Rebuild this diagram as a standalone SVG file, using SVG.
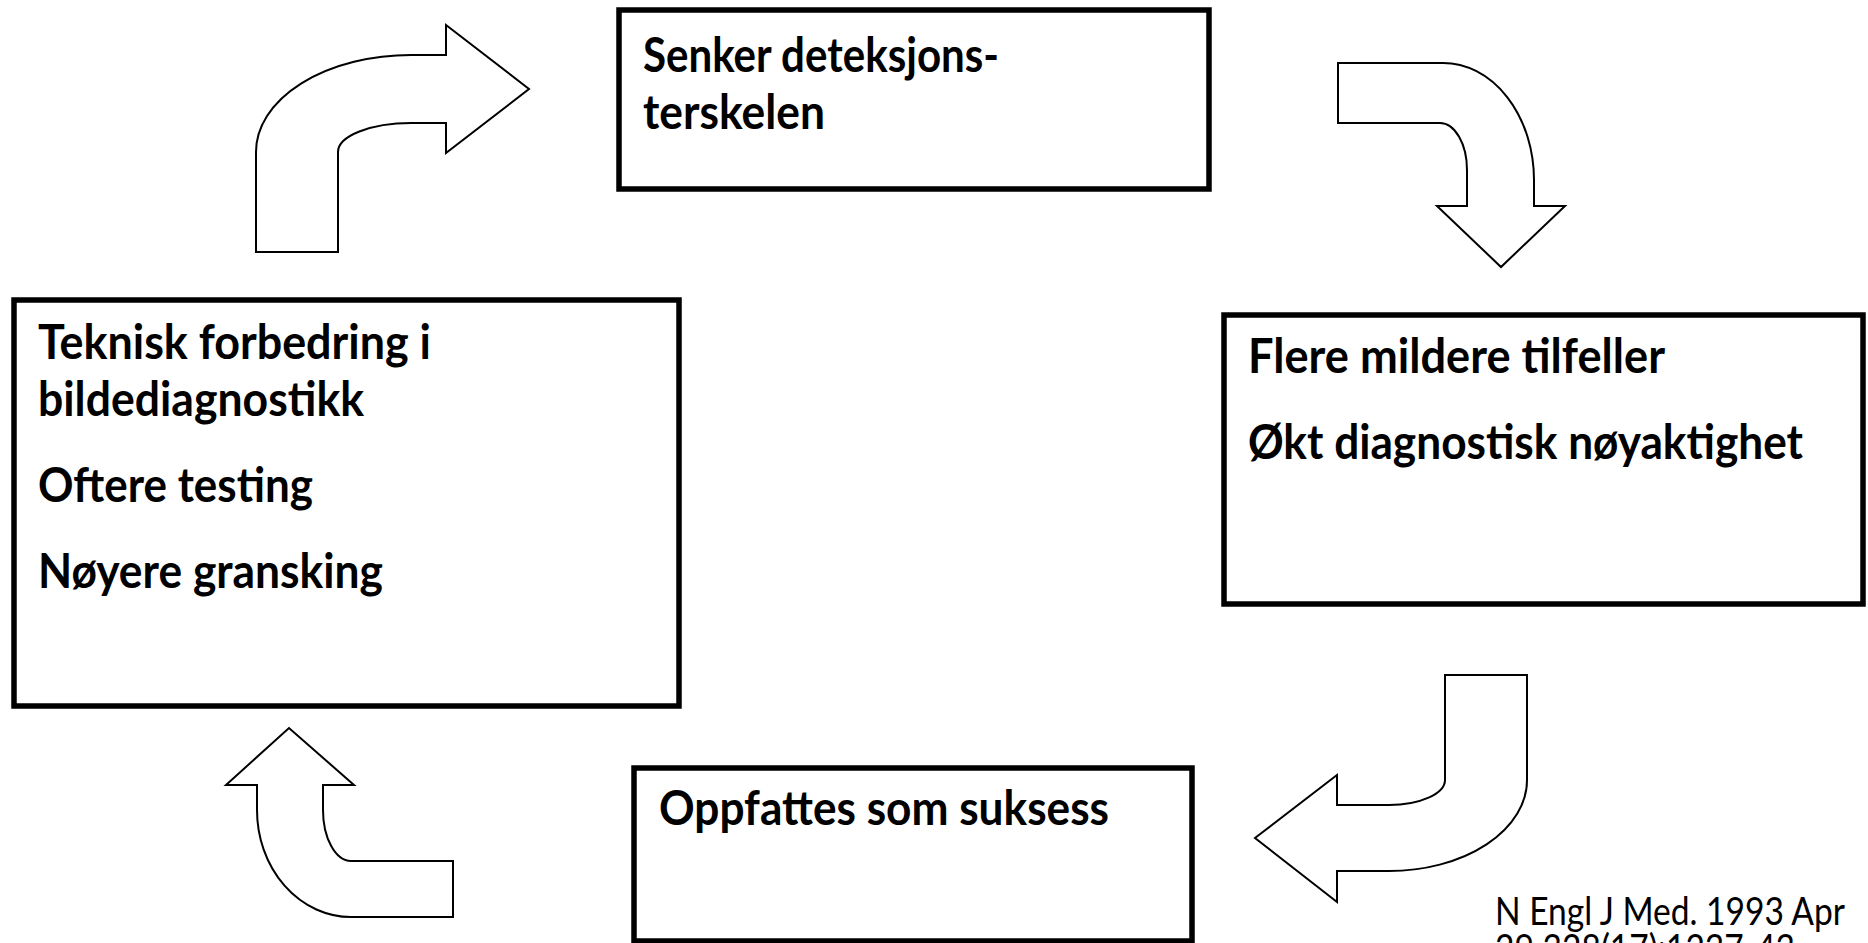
<svg xmlns="http://www.w3.org/2000/svg" width="1868" height="943" viewBox="0 0 1868 943">
  <style>
    .box { fill: #ffffff; stroke: #000000; stroke-width: 5.5; }
    .arrow { fill: #ffffff; stroke: #000000; stroke-width: 2; stroke-linejoin: miter; }
    .lbl { font-family: "Lato", "Carlito", "Liberation Sans", sans-serif; font-weight: 700; font-size: 48px; fill: #000000; }
    .cite { font-family: "Lato", "Carlito", "Liberation Sans", sans-serif; font-weight: 400; font-size: 38px; fill: #000000; }
  </style>
  <rect x="0" y="0" width="1868" height="943" fill="#ffffff"/>

  <g id="connectors">
    <path id="arrow-teknisk-senker" class="arrow" d="M256,252 L256,152 A155,97 0 0 1 411,55 L446,55 L446,25 L529,89 L446,153 L446,123 L411,123 A73,29 0 0 0 338,152 L338,252 Z"/>
    <path id="arrow-senker-flere" class="arrow" d="M1338,63 L1443,63 A91,117 0 0 1 1534,180 L1534,206 L1565,206 L1501,267 L1437,206 L1467,206 L1467,170 A27,47 0 0 0 1440,123 L1338,123 Z"/>
    <path id="arrow-flere-oppfattes" class="arrow" d="M1445,675 L1527,675 L1527,780 A138,91 0 0 1 1389,871 L1337,871 L1337,902 L1255,838 L1337,775 L1337,805 L1389,805 A56,25 0 0 0 1445,780 Z"/>
    <path id="arrow-oppfattes-teknisk" class="arrow" d="M453,861 L351,861 A28,51 0 0 1 323,810 L323,785 L354,785 L289,728 L226,785 L257,785 L257,810 A94,107 0 0 0 351,917 L453,917 Z"/>
  </g>

  <g id="node-senker">
    <rect class="box" x="619" y="10" width="590" height="179"/>
    <text class="lbl" x="643" y="72" textLength="356" lengthAdjust="spacingAndGlyphs">Senker deteksjons-</text>
    <text class="lbl" x="643" y="129" textLength="182" lengthAdjust="spacingAndGlyphs">terskelen</text>
  </g>

  <g id="node-flere">
    <rect class="box" x="1224" y="315" width="639" height="289"/>
    <text class="lbl" x="1248" y="373" textLength="417" lengthAdjust="spacingAndGlyphs">Flere mildere tilfeller</text>
    <text class="lbl" x="1248" y="459" textLength="555" lengthAdjust="spacingAndGlyphs">Økt diagnostisk nøyaktighet</text>
  </g>

  <g id="node-oppfattes">
    <rect class="box" x="634" y="768" width="558" height="173"/>
    <text class="lbl" x="659" y="825" textLength="450" lengthAdjust="spacingAndGlyphs">Oppfattes som suksess</text>
  </g>

  <g id="node-teknisk">
    <rect class="box" x="14" y="300" width="665" height="406"/>
    <text class="lbl" x="38" y="359" textLength="393" lengthAdjust="spacingAndGlyphs">Teknisk forbedring i</text>
    <text class="lbl" x="38" y="416" textLength="326" lengthAdjust="spacingAndGlyphs">bildediagnostikk</text>
    <text class="lbl" x="38" y="502" textLength="275" lengthAdjust="spacingAndGlyphs">Oftere testing</text>
    <text class="lbl" x="38" y="588" textLength="345" lengthAdjust="spacingAndGlyphs">Nøyere gransking</text>
  </g>

  <g id="citation">
    <text class="cite" x="1495" y="925" textLength="350" lengthAdjust="spacingAndGlyphs">N Engl J Med. 1993 Apr</text>
    <text class="cite" x="1495" y="962" textLength="300" lengthAdjust="spacingAndGlyphs">29;328(17):1237-43</text>
  </g>
</svg>
